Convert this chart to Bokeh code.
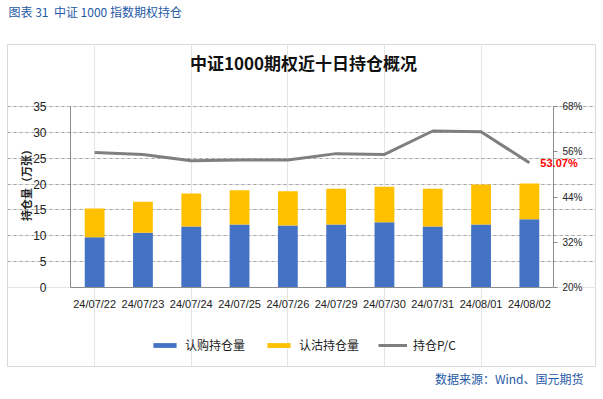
from math import pi
from bokeh.plotting import figure
from bokeh.models import (Range1d, LinearAxis, FixedTicker, Label, Grid,
                          Legend, LegendItem, PrintfTickFormatter, ColumnDataSource)
from bokeh.embed import file_html
from bokeh.resources import INLINE

dates = ["24/07/22", "24/07/23", "24/07/24", "24/07/25", "24/07/26",
         "24/07/29", "24/07/30", "24/07/31", "24/08/01", "24/08/02"]
call_oi = [9.7, 10.6, 11.8, 12.2, 12.0, 12.2, 12.6, 11.8, 12.2, 13.2]
put_oi = [5.6, 6.0, 6.4, 6.6, 6.6, 6.9, 6.9, 7.3, 7.7, 6.9]
pc_ratio = [55.8, 55.3, 53.6, 53.8, 53.8, 55.5, 55.3, 61.5, 61.3, 53.07]
left_ticks = [0, 5, 10, 15, 20, 25, 30, 35]
right_ticks = [20, 32, 44, 56, 68]

BLUE = "#4472C4"
GOLD = "#FFC000"
GRAY = "#7F7F7F"
HEAD = "#1F5AA6"
CJK = "Noto Sans CJK SC"
LAT = "Liberation Sans"

# ---- layout geometry (pixels) ----
W, H = 603, 399
BOX_L, BOX_R, BOX_T, BOX_B = 7, 595, 44, 366        # outer light box = frame
PLOT_L, PLOT_R, PLOT_T, PLOT_B = 70, 553, 106, 287  # inner plotting area

n = len(dates)
xs = list(range(n))
cat_w = (PLOT_R - PLOT_L) / n
x0 = -0.5 - (PLOT_L - BOX_L) / cat_w
x1 = n - 0.5 + (BOX_R - PLOT_R) / cat_w
ly = (PLOT_B - PLOT_T) / (left_ticks[-1] - left_ticks[0])
y0 = left_ticks[0] - (BOX_B - PLOT_B) / ly
y1 = left_ticks[-1] + (PLOT_T - BOX_T) / ly
ry = (PLOT_B - PLOT_T) / (right_ticks[-1] - right_ticks[0])
r0 = right_ticks[0] - (BOX_B - PLOT_B) / ry
r1 = right_ticks[-1] + (PLOT_T - BOX_T) / ry

src = ColumnDataSource(dict(x=xs, date=dates, call=call_oi, put=put_oi, pc=pc_ratio))

p = figure(x_range=Range1d(x0, x1), y_range=Range1d(y0, y1),
           width=W, height=H, output_backend="svg", toolbar_location=None,
           x_axis_location=None, y_axis_location=None,
           min_border_left=BOX_L, min_border_right=W - BOX_R,
           min_border_top=BOX_T, min_border_bottom=H - BOX_B)
p.extra_y_ranges = {"pc": Range1d(r0, r1)}
p.outline_line_color = "#D9D9D9"
p.outline_line_width = 1
p.background_fill_color = "white"
p.border_fill_color = "white"

xb = (-0.5, n - 0.5)

# grid
p.add_layout(Grid(dimension=1, ticker=FixedTicker(ticks=left_ticks[1:]), bounds=xb,
                  grid_line_color="#A6A6A6", grid_line_dash="3 3"))

# left axis
la = LinearAxis(ticker=FixedTicker(ticks=left_ticks), fixed_location=xb[0],
                bounds=(left_ticks[0], left_ticks[-1]))
la.major_tick_line_color = None
la.minor_tick_line_color = None
la.axis_line_color = "#8C8C8C"
la.major_label_standoff = 18
la.major_label_text_font = LAT
la.major_label_text_font_size = "12px"
la.major_label_text_color = "#222222"
p.add_layout(la, "left")

# bottom axis
ba = LinearAxis(ticker=FixedTicker(ticks=xs), fixed_location=left_ticks[0], bounds=xb,
                major_label_overrides={i: d for i, d in zip(xs, dates)})
ba.major_tick_line_color = None
ba.minor_tick_line_color = None
ba.axis_line_color = "#8C8C8C"
ba.major_label_standoff = 4
ba.major_label_text_font = LAT
ba.major_label_text_font_size = "11px"
ba.major_label_text_color = "#222222"
p.add_layout(ba, "below")

# right axis
ra = LinearAxis(y_range_name="pc", ticker=FixedTicker(ticks=right_ticks),
                formatter=PrintfTickFormatter(format="%d%%"), fixed_location=xb[1],
                bounds=(right_ticks[0], right_ticks[-1]))
ra.axis_line_color = "#8C8C8C"
ra.major_tick_line_color = "#8C8C8C"
ra.major_tick_out = 4
ra.major_tick_in = 0
ra.minor_tick_line_color = None
ra.major_label_standoff = 5
ra.major_label_text_font = LAT
ra.major_label_text_font_size = "10px"
ra.major_label_text_color = "#222222"
p.add_layout(ra, "right")

bars = p.vbar_stack(["call", "put"], x="x", width=0.41, source=src,
                    color=[BLUE, GOLD], line_color=None)
ln = p.line(x="x", y="pc", source=src, y_range_name="pc",
            line_color=GRAY, line_width=3)

legend = Legend(items=[LegendItem(label="认购持仓量", renderers=[bars[0]]),
                       LegendItem(label="认沽持仓量", renderers=[bars[1]]),
                       LegendItem(label="持仓P/C", renderers=[ln])],
                orientation="horizontal", location=(150 - BOX_L, BOX_B - 353),
                padding=0, margin=0, spacing=19, label_standoff=6,
                glyph_width=29, glyph_height=6, label_height=14,
                label_text_font=CJK, label_text_font_size="12px",
                label_text_color="#222222",
                border_line_color=None, background_fill_alpha=0)
p.add_layout(legend, "center")

# last value label
p.add_layout(Label(x=xs[-1], y=pc_ratio[-1], y_range_name="pc",
                   text=f"{pc_ratio[-1]:.2f}%", x_offset=11, y_offset=0,
                   text_baseline="middle", text_font=LAT, text_font_size="11px",
                   text_font_style="bold", text_color="#FF0000"))

# chart title and y-axis title (inside the box)
p.add_layout(Label(x=303 - BOX_L, y=BOX_B - 62, x_units="screen", y_units="screen",
                   text="中证1000期权近十日持仓概况", text_align="center",
                   text_baseline="middle", text_font=CJK, text_font_size="17px",
                   text_font_style="bold", text_color="#111111"))
p.add_layout(Label(x=25 - BOX_L, y=BOX_B - 182, x_units="screen", y_units="screen",
                   angle=pi / 2, text="持仓量（万张）", text_align="center",
                   text_baseline="middle", text_font=CJK, text_font_size="11px",
                   text_font_style="bold", text_color="#222222"))

# header and source note (outside the box, in side panels)
p.add_layout(Label(x=x0, y=y1, x_offset=8 - BOX_L, y_offset=BOX_T - 11,
                   text="图表 31\u00a0\u00a0中证 1000 指数期权持仓", text_baseline="middle",
                   text_font=CJK, text_font_size="12px", text_color=HEAD), "above")
p.add_layout(Label(x=x1, y=y0, x_offset=583 - BOX_R, y_offset=BOX_B - 378,
                   text="数据来源：Wind、国元期货", text_align="right",
                   text_baseline="middle", text_font=CJK, text_font_size="12px",
                   text_color=HEAD), "below")

open("out.html", "w").write(file_html(p, INLINE))
